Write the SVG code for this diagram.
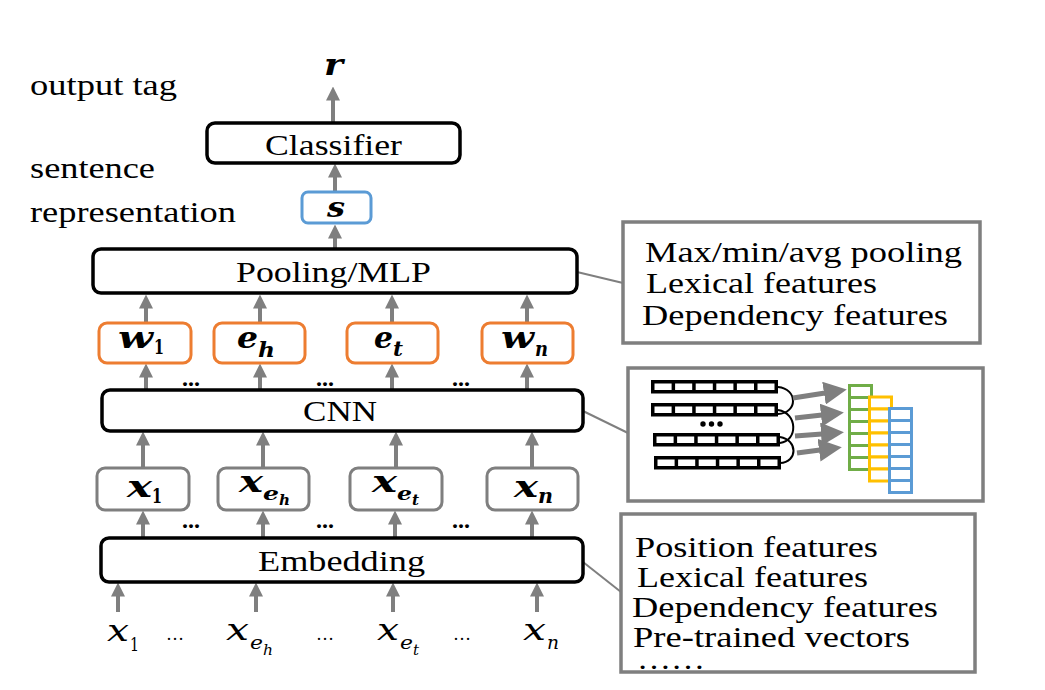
<svg xmlns="http://www.w3.org/2000/svg" width="1045" height="690" viewBox="0 0 1045 690">
<style>
.t{font-family:'Liberation Serif','Tinos','Times New Roman','DejaVu Serif',serif;font-size:29px;fill:#000}
.m{font-family:'DejaVu Serif','Liberation Serif',serif;font-style:italic;fill:#000}
.mb{font-family:'DejaVu Serif','Liberation Serif',serif;font-style:italic;font-weight:bold;fill:#000}
.sb{font-family:'DejaVu Serif','Liberation Serif',serif;font-weight:bold;fill:#000}
.su{font-family:'DejaVu Serif','Liberation Serif',serif;fill:#000}
.blk{fill:#fff;stroke:#000;stroke-width:3.5}
.org{fill:#fff;stroke:#ED7D31;stroke-width:3}
.gry{fill:#fff;stroke:#7F7F7F;stroke-width:3}
.blu{fill:#fff;stroke:#5B9BD5;stroke-width:3}
.note{fill:#fff;stroke:#7F7F7F;stroke-width:3.5}
.arr{stroke:#7F7F7F;stroke-width:4;fill:none;marker-end:url(#ah)}
.lnk{stroke:#7F7F7F;stroke-width:2;fill:none}
.big{stroke:#7F7F7F;stroke-width:5;fill:none;marker-end:url(#bh)}
.dots{font-family:'Liberation Serif','DejaVu Serif',serif;font-weight:bold;font-size:24px;fill:#000}
.ell{font-family:'Liberation Serif','DejaVu Serif',serif;font-size:18px;fill:#000}
</style>
<defs>
<marker id="ah" markerUnits="userSpaceOnUse" viewBox="0 0 14 14" markerWidth="14" markerHeight="14" refX="0.5" refY="7" orient="auto">
<path d="M0,0 L14,7 L0,14 z" fill="#7F7F7F"/>
</marker>
<marker id="bh" markerUnits="userSpaceOnUse" viewBox="0 0 23 23" markerWidth="23" markerHeight="23" refX="1" refY="11.5" orient="auto">
<path d="M0,0 L23,11.5 L0,23 z" fill="#7F7F7F"/>
</marker>
<g id="row">
<rect x="0" y="0" width="127" height="13.5" fill="#000"/>
<rect x="3.5" y="3.5" width="17.1" height="6.5" fill="#fff"/>
<rect x="24.1" y="3.5" width="17.1" height="6.5" fill="#fff"/>
<rect x="44.7" y="3.5" width="17.1" height="6.5" fill="#fff"/>
<rect x="65.3" y="3.5" width="17.1" height="6.5" fill="#fff"/>
<rect x="85.9" y="3.5" width="17.1" height="6.5" fill="#fff"/>
<rect x="106.5" y="3.5" width="17" height="6.5" fill="#fff"/>
</g>
<g id="col">
<rect x="0" y="0" width="22" height="12" stroke-width="3"/>
<rect x="0" y="12" width="22" height="12" stroke-width="3"/>
<rect x="0" y="24" width="22" height="12" stroke-width="3"/>
<rect x="0" y="36" width="22" height="12" stroke-width="3"/>
<rect x="0" y="48" width="22" height="12" stroke-width="3"/>
<rect x="0" y="60" width="22" height="12" stroke-width="3"/>
<rect x="0" y="72" width="22" height="12" stroke-width="3"/>
</g>
</defs>
<rect width="1045" height="690" fill="#fff"/>

<g id="labels">
<text class="t" x="30" y="95" textLength="147" lengthAdjust="spacingAndGlyphs">output tag</text>
<text class="t" x="30" y="178" textLength="125" lengthAdjust="spacingAndGlyphs">sentence</text>
<text class="t" x="30" y="222" textLength="206" lengthAdjust="spacingAndGlyphs">representation</text>
<text class="mb" x="324" y="75" font-size="30" textLength="19" lengthAdjust="spacingAndGlyphs">r</text>
</g>

<g id="connectors">
<line class="arr" x1="333" y1="122" x2="333" y2="100"/>
<line class="arr" x1="335" y1="192" x2="335" y2="177"/>
<line class="arr" x1="335" y1="249" x2="335" y2="238"/>
<line class="arr" x1="146" y1="323" x2="146" y2="308"/>
<line class="arr" x1="260" y1="323" x2="260" y2="308"/>
<line class="arr" x1="392" y1="323" x2="392" y2="308"/>
<line class="arr" x1="527" y1="323" x2="527" y2="308"/>
<line class="arr" x1="146" y1="390" x2="146" y2="377"/>
<line class="arr" x1="260" y1="390" x2="260" y2="377"/>
<line class="arr" x1="392" y1="390" x2="392" y2="377"/>
<line class="arr" x1="527" y1="390" x2="527" y2="377"/>
<line class="arr" x1="143" y1="468" x2="143" y2="445"/>
<line class="arr" x1="263" y1="468" x2="263" y2="445"/>
<line class="arr" x1="396" y1="468" x2="396" y2="445"/>
<line class="arr" x1="532" y1="468" x2="532" y2="445"/>
<line class="arr" x1="143" y1="538" x2="143" y2="524"/>
<line class="arr" x1="263" y1="538" x2="263" y2="524"/>
<line class="arr" x1="395" y1="538" x2="395" y2="524"/>
<line class="arr" x1="532" y1="538" x2="532" y2="524"/>
<line class="arr" x1="118" y1="612" x2="118" y2="596"/>
<line class="arr" x1="256" y1="612" x2="256" y2="596"/>
<line class="arr" x1="393" y1="612" x2="393" y2="596"/>
<line class="arr" x1="537" y1="612" x2="537" y2="596"/>
<line class="lnk" x1="577" y1="272" x2="623" y2="283"/>
<line class="lnk" x1="583" y1="411" x2="628" y2="433"/>
<line class="lnk" x1="583" y1="562" x2="621" y2="592"/>
</g>

<g id="classifier">
<rect class="blk" x="207" y="123" width="253" height="40" rx="8"/>
<text class="t" x="265" y="155" textLength="137" lengthAdjust="spacingAndGlyphs">Classifier</text>
</g>

<g id="s">
<rect class="blu" x="302" y="192" width="69" height="31" rx="6"/>
<text class="mb" x="327" y="217" font-size="27" textLength="18" lengthAdjust="spacingAndGlyphs">s</text>
</g>

<g id="pooling">
<rect class="blk" x="93" y="249" width="484" height="44" rx="8"/>
<text class="t" x="236" y="282" textLength="195" lengthAdjust="spacingAndGlyphs">Pooling/MLP</text>
</g>

<g id="w1">
<rect class="org" x="99" y="323" width="92" height="40" rx="8"/>
<text class="mb" x="118" y="348" font-size="29" textLength="35" lengthAdjust="spacingAndGlyphs">w</text>
<text class="sb" x="154" y="354" font-size="20" textLength="10" lengthAdjust="spacingAndGlyphs">1</text>
</g>
<g id="eh">
<rect class="org" x="214" y="323" width="91" height="40" rx="8"/>
<text class="mb" x="237" y="348" font-size="29" textLength="21" lengthAdjust="spacingAndGlyphs">e</text>
<text class="mb" x="258" y="357" font-size="20" textLength="17" lengthAdjust="spacingAndGlyphs">h</text>
</g>
<g id="et">
<rect class="org" x="347" y="323" width="91" height="40" rx="8"/>
<text class="mb" x="374" y="348" font-size="29" textLength="19" lengthAdjust="spacingAndGlyphs">e</text>
<text class="mb" x="393" y="356" font-size="20" textLength="10" lengthAdjust="spacingAndGlyphs">t</text>
</g>
<g id="wn">
<rect class="org" x="482" y="323" width="91" height="40" rx="8"/>
<text class="mb" x="501" y="348" font-size="29" textLength="33" lengthAdjust="spacingAndGlyphs">w</text>
<text class="mb" x="535" y="356" font-size="20" textLength="13" lengthAdjust="spacingAndGlyphs">n</text>
</g>

<g id="dots-upper">
<text class="dots" x="182" y="386">...</text>
<text class="dots" x="316" y="386">...</text>
<text class="dots" x="452" y="386">...</text>
</g>

<g id="cnn">
<rect class="blk" x="102" y="390" width="481" height="41" rx="8"/>
<text class="t" x="303" y="421" textLength="74" lengthAdjust="spacingAndGlyphs">CNN</text>
</g>

<g id="x1">
<rect class="gry" x="97" y="468" width="92" height="42" rx="8"/>
<text class="mb" x="127" y="497" font-size="29" textLength="25" lengthAdjust="spacingAndGlyphs">x</text>
<text class="sb" x="152" y="503" font-size="20" textLength="10" lengthAdjust="spacingAndGlyphs">1</text>
</g>
<g id="xeh">
<rect class="gry" x="218" y="468" width="91" height="42" rx="8"/>
<text class="mb" x="239" y="492" font-size="29" textLength="24" lengthAdjust="spacingAndGlyphs">x</text>
<text class="mb" x="263" y="500" font-size="19" textLength="16" lengthAdjust="spacingAndGlyphs">e</text>
<text class="mb" x="279" y="505" font-size="15" textLength="11" lengthAdjust="spacingAndGlyphs">h</text>
</g>
<g id="xet">
<rect class="gry" x="350" y="468" width="92" height="42" rx="8"/>
<text class="mb" x="372" y="492" font-size="29" textLength="25" lengthAdjust="spacingAndGlyphs">x</text>
<text class="mb" x="397" y="500" font-size="19" textLength="15" lengthAdjust="spacingAndGlyphs">e</text>
<text class="mb" x="412" y="505" font-size="15" textLength="7" lengthAdjust="spacingAndGlyphs">t</text>
</g>
<g id="xn">
<rect class="gry" x="487" y="468" width="91" height="42" rx="8"/>
<text class="mb" x="514" y="497" font-size="29" textLength="24" lengthAdjust="spacingAndGlyphs">x</text>
<text class="mb" x="538" y="503" font-size="20" textLength="15" lengthAdjust="spacingAndGlyphs">n</text>
</g>

<g id="dots-lower">
<text class="dots" x="182" y="528">...</text>
<text class="dots" x="316" y="528">...</text>
<text class="dots" x="452" y="528">...</text>
</g>

<g id="embedding">
<rect class="blk" x="101" y="538" width="482" height="44" rx="8"/>
<text class="t" x="258" y="571" textLength="167" lengthAdjust="spacingAndGlyphs">Embedding</text>
</g>

<g id="inputs">
<text class="m" x="107" y="641" font-size="29" textLength="22" lengthAdjust="spacingAndGlyphs">x</text>
<text class="su" x="130" y="651" font-size="19" textLength="9" lengthAdjust="spacingAndGlyphs">1</text>
<text class="ell" x="166" y="640">…</text>
<text class="m" x="226" y="640" font-size="29" textLength="23" lengthAdjust="spacingAndGlyphs">x</text>
<text class="m" x="250" y="649" font-size="18" textLength="13" lengthAdjust="spacingAndGlyphs">e</text>
<text class="m" x="263" y="655" font-size="14" textLength="10" lengthAdjust="spacingAndGlyphs">h</text>
<text class="ell" x="316" y="640">…</text>
<text class="m" x="377" y="640" font-size="29" textLength="22" lengthAdjust="spacingAndGlyphs">x</text>
<text class="m" x="400" y="649" font-size="18" textLength="13" lengthAdjust="spacingAndGlyphs">e</text>
<text class="m" x="413" y="655" font-size="14" textLength="6" lengthAdjust="spacingAndGlyphs">t</text>
<text class="ell" x="453" y="640">…</text>
<text class="m" x="523" y="640" font-size="29" textLength="23" lengthAdjust="spacingAndGlyphs">x</text>
<text class="m" x="547" y="649" font-size="19" textLength="12" lengthAdjust="spacingAndGlyphs">n</text>
</g>

<g id="pooling-note">
<rect class="note" x="623" y="222" width="357" height="121"/>
<text class="t" x="645" y="262" textLength="317" lengthAdjust="spacingAndGlyphs">Max/min/avg pooling</text>
<text class="t" x="646" y="293" textLength="231" lengthAdjust="spacingAndGlyphs">Lexical features</text>
<text class="t" x="642" y="325" textLength="306" lengthAdjust="spacingAndGlyphs">Dependency features</text>
</g>

<g id="cnn-detail">
<rect class="note" x="628" y="368" width="355" height="133"/>
<use href="#row" x="651" y="380"/>
<use href="#row" x="651" y="403"/>
<use href="#row" x="653" y="433"/>
<use href="#row" x="654" y="456"/>
<circle cx="703" cy="424" r="2.7" fill="#000"/>
<circle cx="711.5" cy="424" r="2.7" fill="#000"/>
<circle cx="720" cy="424" r="2.7" fill="#000"/>
<path d="M778,387 C798,389 798,413 778,414" fill="none" stroke="#000" stroke-width="2"/>
<path d="M778,410 C798,413 798,441 780,443" fill="none" stroke="#000" stroke-width="2"/>
<path d="M780,437 C798,440 798,462 780,463" fill="none" stroke="#000" stroke-width="2"/>
<line class="big" x1="793" y1="398" x2="825" y2="393"/>
<line class="big" x1="795" y1="418" x2="822" y2="415"/>
<line class="big" x1="795" y1="436" x2="822" y2="434"/>
<line class="big" x1="797" y1="453" x2="820" y2="450"/>
<use href="#col" x="849.5" y="385.5" fill="#fff" stroke="#70AD47"/>
<use href="#col" x="869.5" y="397" fill="#fff" stroke="#FFC000"/>
<use href="#col" x="889.5" y="408.5" fill="#fff" stroke="#5B9BD5"/>
</g>

<g id="embedding-note">
<rect class="note" x="621" y="514" width="354" height="158"/>
<text class="t" x="635" y="557" textLength="243" lengthAdjust="spacingAndGlyphs">Position features</text>
<text class="t" x="637" y="587" textLength="231" lengthAdjust="spacingAndGlyphs">Lexical features</text>
<text class="t" x="632" y="617" textLength="306" lengthAdjust="spacingAndGlyphs">Dependency features</text>
<text class="t" x="633" y="647" textLength="277" lengthAdjust="spacingAndGlyphs">Pre-trained vectors</text>
<text class="t" x="637" y="669" textLength="68" lengthAdjust="spacingAndGlyphs">……</text>
</g>
</svg>
